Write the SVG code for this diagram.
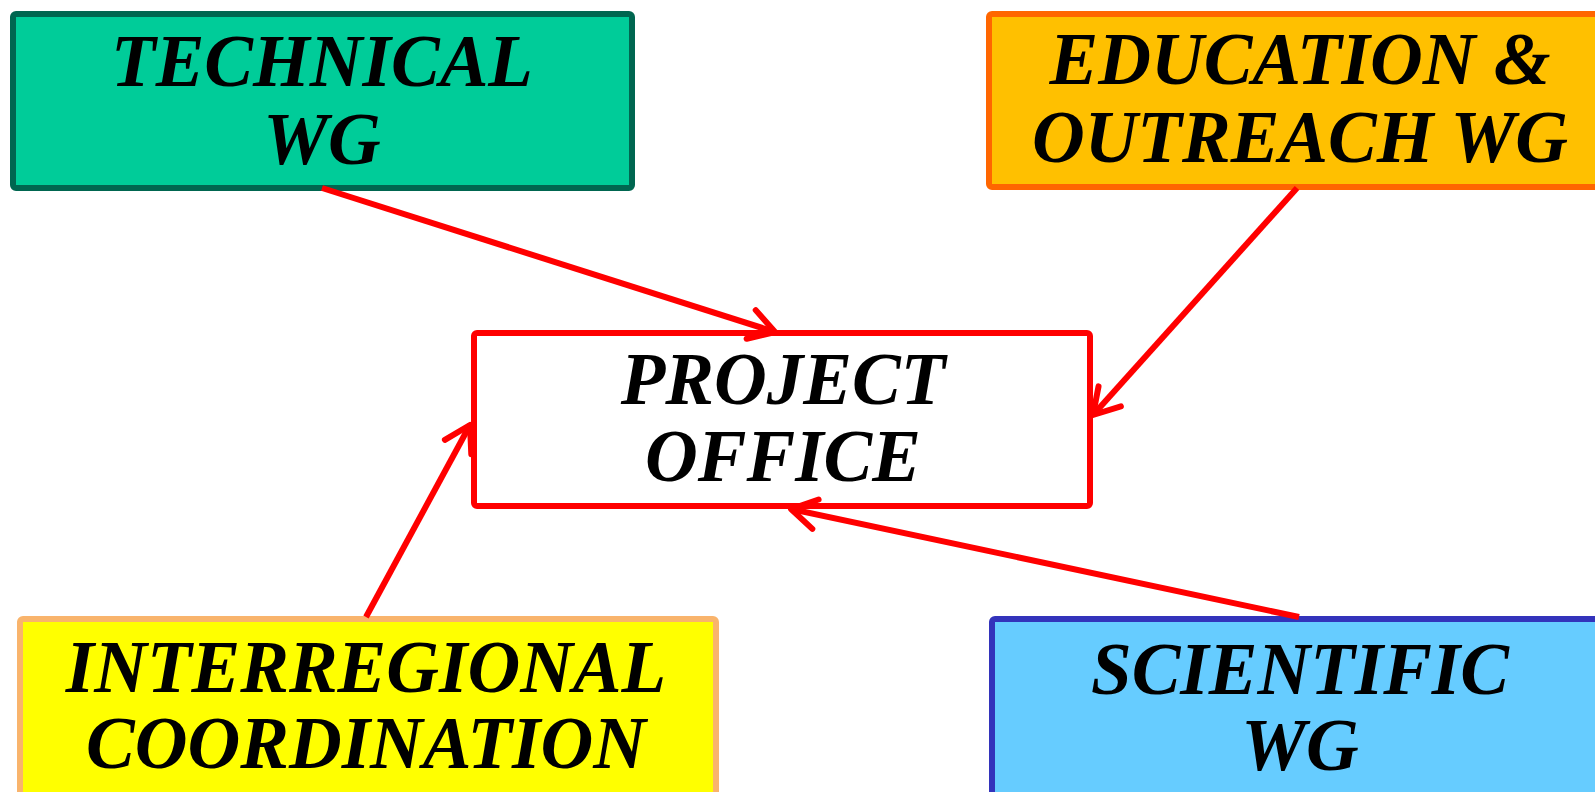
<svg xmlns="http://www.w3.org/2000/svg" width="1595" height="792" viewBox="0 0 1595 792">
<style>
.box{stroke-width:6;stroke-linejoin:round}
.lbl{font-family:"Liberation Serif","Times New Roman",serif;font-weight:bold;font-style:italic;font-size:73px;fill:#000;text-anchor:middle}
.conn{stroke:#FF0000;stroke-width:6;fill:none}
</style>
<defs>
<marker id="arr" markerUnits="userSpaceOnUse" markerWidth="30" markerHeight="34" viewBox="0 0 30 34" refX="27" refY="17" orient="auto" overflow="visible">
<path d="M2,2 L27,17 L2,32" fill="none" stroke="#FF0000" stroke-width="6" stroke-linecap="round" stroke-linejoin="round"/>
</marker>
</defs>
<rect width="1595" height="792" fill="#FFFFFF"/>
<g id="technical">
<rect class="box" x="13" y="14" width="619" height="174" rx="3" fill="#00CC99" stroke="#006650"/>
<text class="lbl" x="322" y="86">TECHNICAL</text>
<text class="lbl" x="322" y="164">WG</text>
</g>
<g id="education">
<rect class="box" x="989" y="14" width="620" height="173" rx="3" fill="#FFC000" stroke="#FF6600"/>
<text class="lbl" x="1300" y="84">EDUCATION &amp;</text>
<text class="lbl" x="1300" y="162">OUTREACH WG</text>
</g>
<g id="project">
<rect class="box" x="474" y="333" width="616" height="173" rx="3" fill="#FFFFFF" stroke="#FF0000"/>
<text class="lbl" x="783" y="404">PROJECT</text>
<text class="lbl" x="783" y="481">OFFICE</text>
</g>
<g id="interregional">
<rect class="box" x="20" y="619" width="696" height="180" rx="3" fill="#FFFF00" stroke="#F9B46C"/>
<text class="lbl" x="366" y="692">INTERREGIONAL</text>
<text class="lbl" x="366" y="768">COORDINATION</text>
</g>
<g id="scientific">
<rect class="box" x="992" y="619" width="620" height="180" rx="3" fill="#66CCFF" stroke="#3333BB"/>
<text class="lbl" x="1300" y="694">SCIENTIFIC</text>
<text class="lbl" x="1300" y="770">WG</text>
</g>
<g id="connectors">
<line class="conn" x1="322" y1="188" x2="775" y2="332" marker-end="url(#arr)"/>
<line class="conn" x1="1297" y1="188" x2="1093" y2="415" marker-end="url(#arr)"/>
<line class="conn" x1="366" y1="617" x2="470" y2="425" marker-end="url(#arr)"/>
<line class="conn" x1="1299" y1="617" x2="791" y2="509" marker-end="url(#arr)"/>
</g>
</svg>
